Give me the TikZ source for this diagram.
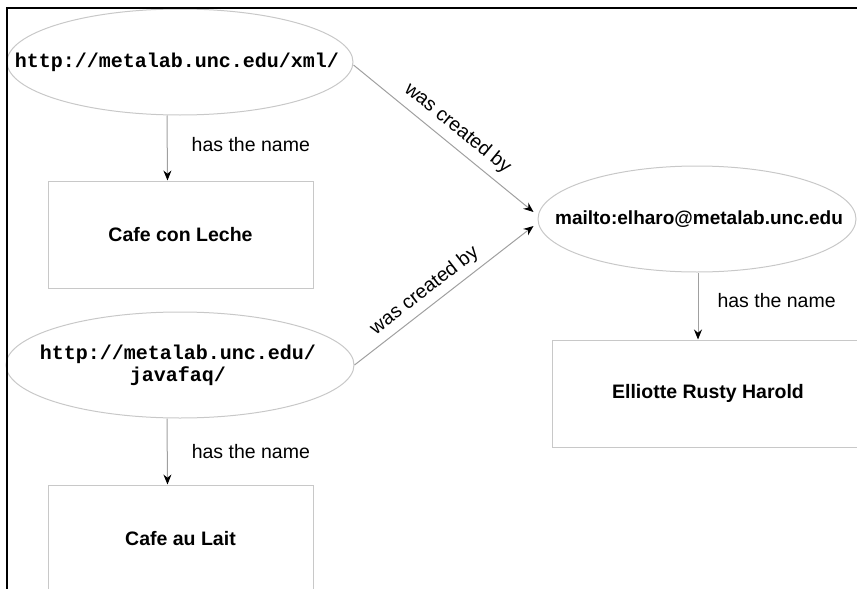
\documentclass[tikz,border=0pt]{standalone}
\usepackage{fontspec}
\setmainfont{Liberation Sans}
\newfontfamily\urlfont{Liberation Mono}
\usetikzlibrary{shapes.geometric,arrows.meta}
\definecolor{shapegray}{HTML}{C8C8C8}
\definecolor{linegray}{HTML}{A0A0A0}
\begin{document}
\begin{tikzpicture}[x=1pt,y=-1pt,
  res/.style={ellipse, draw=shapegray, line width=1pt, inner sep=0pt, minimum height=106pt},
  urltext/.style={font=\urlfont\bfseries\fontsize{20}{22}\selectfont, align=center, inner sep=0pt},
  mailtext/.style={font=\bfseries\fontsize{19}{22}\selectfont, inner sep=0pt},
  lit/.style={rectangle, draw=shapegray, line width=1pt, inner sep=0pt,
    minimum height=107pt, font=\bfseries\fontsize{19.5}{22}\selectfont},
  rel/.style={draw=linegray, line width=1pt,
    -{Stealth[length=10pt,width=8pt,color=black]}},
  lbl/.style={font=\fontsize{19.5}{22}\selectfont, inner sep=2pt}
]
\useasboundingbox (0,0) rectangle (857,589);
\clip (0,0) rectangle (857,589);
% nodes
\node[res, minimum width=346pt] (e1) at (180,62) {};
\node[urltext] (e1t) at (177,62) {http://metalab.unc.edu/xml/};
\node[lit, minimum width=265pt] (b1) at (180.5,234.5) {Cafe con Leche};
\node[res, minimum width=348pt] (e2) at (180,365) {};
\node[urltext] (e2t) at (178,365) {http://metalab.unc.edu/\\javafaq/};
\node[lit, minimum width=265pt] (b3) at (180.5,538.5) {Cafe au Lait};
\node[res, minimum width=318pt] (e3) at (697,219) {};
\node[mailtext] (e3t) at (699,219) {mailto:elharo@metalab.unc.edu};
\node[lit, minimum width=312pt] (b2) at (708,393.5) {Elliotte Rusty Harold};
% connectors
\draw[rel] ([xshift=-13pt]e1.south) -- node[lbl, right=22pt, pos=0.45] {has the name} ([xshift=-13pt]b1.north);
\draw[rel] ([xshift=-13pt]e2.south) -- node[lbl, right=22pt, pos=0.5] {has the name} ([xshift=-13pt]b3.north);
\draw[rel] ([xshift=1pt]e3.south) -- node[lbl, right=17pt, pos=0.42] {has the name} ([xshift=-10pt]b2.north);
\draw[rel] ([yshift=-3pt]e1.east) -- node[lbl, sloped, above=5pt, pos=0.52] {was created by} ([xshift=-4pt,yshift=7pt]e3.west);
\draw[rel] (e2.east) -- node[lbl, sloped, above=4pt, pos=0.445] {was created by} ([xshift=-4pt,yshift=-7pt]e3.west);
% frame
\draw[line width=2pt, black] (7,589) -- (7,8) -- (857,8);
\end{tikzpicture}
\end{document}
